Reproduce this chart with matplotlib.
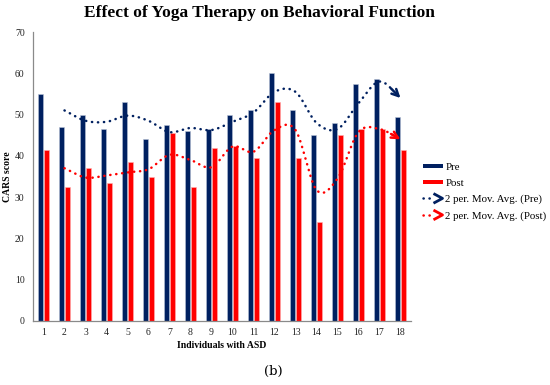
import numpy as np
import matplotlib
matplotlib.use("Agg")
import matplotlib.pyplot as plt
from matplotlib.lines import Line2D
from matplotlib.patches import Rectangle
from matplotlib.legend_handler import HandlerBase

individuals = [str(i) for i in range(1, 19)]
pre = [55, 47, 50, 46.5, 53, 44, 47.5, 46, 46.5, 50, 51, 60, 51, 45, 48, 57.5, 58.5, 49.5]
post = [41.5, 32.5, 37, 33.5, 38.5, 35, 45.5, 32.5, 42, 42.5, 39.5, 53, 39.5, 24, 45, 46.5, 46.5, 41.5]
y_ticks = [0, 10, 20, 30, 40, 50, 60, 70]

NAVY = "#002060"
RED = "#ff0000"
SERIF = ["Liberation Serif", "DejaVu Serif"]

plt.rcParams["font.family"] = SERIF

fig = plt.figure(figsize=(5.5, 3.85), dpi=100)
ax = fig.add_axes([33 / 550, 1 - 321 / 385, (411 - 33) / 550, (321 - 32) / 385])

x = np.arange(1, len(individuals) + 1)
w = 0.25
ax.bar(x - 0.15, pre, width=w, color=NAVY, edgecolor="#b8c2d6", linewidth=0.4, zorder=2)
ax.bar(x + 0.15, post, width=w, color=RED, edgecolor="#ffb0b0", linewidth=0.4, zorder=2)


def moving_avg(v):
    v = np.asarray(v, float)
    return (v[1:] + v[:-1]) / 2.0


def catmull(xs, ys, n=20):
    xs = np.asarray(xs, float)
    ys = np.asarray(ys, float)
    px = np.concatenate([[2 * xs[0] - xs[1]], xs, [2 * xs[-1] - xs[-2]]])
    py = np.concatenate([[2 * ys[0] - ys[1]], ys, [2 * ys[-1] - ys[-2]]])
    ox, oy = [], []
    t = np.linspace(0, 1, n, endpoint=False)
    for i in range(1, len(px) - 2):
        p0, p1, p2, p3 = px[i - 1:i + 3]
        q0, q1, q2, q3 = py[i - 1:i + 3]
        for arr, a0, a1, a2, a3 in ((ox, p0, p1, p2, p3), (oy, q0, q1, q2, q3)):
            arr.extend(0.5 * ((2 * a1) + (-a0 + a2) * t + (2 * a0 - 5 * a1 + 4 * a2 - a3) * t ** 2
                              + (-a0 + 3 * a1 - 3 * a2 + a3) * t ** 3))
    ox.append(xs[-1])
    oy.append(ys[-1])
    return np.array(ox), np.array(oy)


for vals, col in ((pre, NAVY), (post, RED)):
    ma = moving_avg(vals)
    mx = x[1:]
    sx, sy = catmull(mx, ma)
    ax.plot(sx[:-7], sy[:-7], color=col, lw=1.8, linestyle=(0, (0.1, 2.3)),
            dash_capstyle="round", zorder=3)
    ax.annotate("", xy=(sx[-1], sy[-1]), xytext=(sx[-10], sy[-10]),
                arrowprops=dict(arrowstyle="->", color=col, lw=1.8, mutation_scale=12,
                                shrinkA=0, shrinkB=0), zorder=4)

ax.set_xlim(0.5, len(individuals) + 0.5)
ax.set_ylim(0, 70)
ax.set_yticks(y_ticks)
ax.set_xticks(x)
ax.set_xticklabels(individuals)
ax.tick_params(axis="both", length=0, labelsize=7, colors="#222222")
ax.tick_params(axis="y", pad=6)
ax.tick_params(axis="x", pad=5)
for s in ("top", "right"):
    ax.spines[s].set_visible(False)
for s in ("left", "bottom"):
    ax.spines[s].set_color("#8a8a8a")
    ax.spines[s].set_linewidth(0.9)

fig.text(8 / 550, 1 - 177 / 385, "CARS score", rotation=90, ha="center", va="center",
         fontsize=7, fontweight="bold")
fig.text(222 / 550, 1 - 345 / 385, "Individuals with ASD", ha="center", va="center",
         fontsize=7, fontweight="bold")
fig.text(259 / 550, 1 - 13 / 385, "Effect of Yoga Therapy on Behavioral Function",
         ha="center", va="center", fontsize=12.5, fontweight="bold")
fig.text(273 / 550, 1 - 371 / 385, "(b)", ha="center", va="center", fontsize=9.5,
         family=["DejaVu Serif"])


class ArrowLine:
    def __init__(self, color):
        self.color = color


class ArrowLineHandler(HandlerBase):
    def create_artists(self, legend, orig, xd, yd, width, height, fontsize, trans):
        h = height / 2 - yd
        l1 = Line2D([-xd, -xd + width * 0.55], [h, h], color=orig.color, lw=1.8,
                    linestyle=(0, (0.1, 2.3)), dash_capstyle="round", transform=trans)
        c = Line2D([-xd + width * 0.6, -xd + width, -xd + width * 0.6],
                   [h + height * 0.55, h, h - height * 0.55], color=orig.color, lw=2.0,
                   transform=trans)
        return [l1, c]


class BoxHandler(HandlerBase):
    def create_artists(self, legend, orig, xd, yd, width, height, fontsize, trans):
        r = Rectangle((-xd, height * 0.2 - yd), width, height * 0.6, facecolor=orig.get_facecolor(),
                      edgecolor="none", transform=trans)
        return [r]


h_pre = Rectangle((0, 0), 1, 1, color=NAVY)
h_post = Rectangle((0, 0), 1, 1, color=RED)
handles = [h_pre, h_post, ArrowLine(NAVY), ArrowLine(RED)]
labels = ["Pre", "Post", "2 per. Mov. Avg. (Pre)", "2 per. Mov. Avg. (Post)"]
fig.legend(handles, labels, loc="upper left", bbox_to_anchor=(423 / 550, 1 - 162 / 385),
           frameon=False, fontsize=7.8, borderpad=0, borderaxespad=0, handlelength=1.8,
           handletextpad=0.25, labelspacing=0.62,
           handler_map={ArrowLine: ArrowLineHandler(), Rectangle: BoxHandler()})

fig.savefig("out.png", dpi=100)
